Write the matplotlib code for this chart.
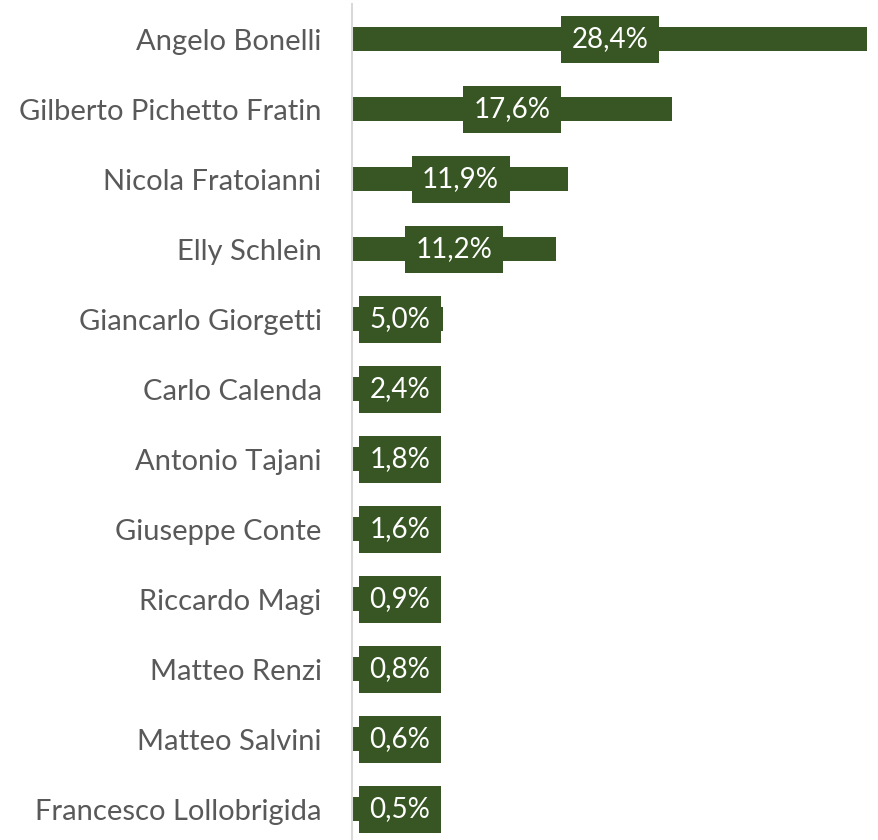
import matplotlib.pyplot as plt
from matplotlib.patches import Rectangle

# candidates and share of preference (%)
names = [
    "Angelo Bonelli",
    "Gilberto Pichetto Fratin",
    "Nicola Fratoianni",
    "Elly Schlein",
    "Giancarlo Giorgetti",
    "Carlo Calenda",
    "Antonio Tajani",
    "Giuseppe Conte",
    "Riccardo Magi",
    "Matteo Renzi",
    "Matteo Salvini",
    "Francesco Lollobrigida",
]
values = [28.4, 17.6, 11.9, 11.2, 5.0, 2.4, 1.8, 1.6, 0.9, 0.8, 0.6, 0.5]

GREEN = "#375623"
GREY_TXT = "#595959"
FONT = ["Lato", "DejaVu Sans"]
plt.rcParams["font.family"] = FONT

W, H = 879, 840
fig = plt.figure(figsize=(W / 100, H / 100), dpi=100)

# plot area in pixels: x 353..867 for 0..max, rows 70 px apart
x0, x1 = 353, 867
y_top, y_bot = 4, 840
row = 70.0
ax = fig.add_axes([x0 / W, 1 - y_bot / H, (x1 - x0) / W, (y_bot - y_top) / H])
ax.set_xlim(0, max(values))
ax.set_ylim(-0.5 + (y_bot - y_top) / row, -0.5)

pos = list(range(len(names)))
ax.barh(pos, values, height=24 / row, color=GREEN, zorder=2)

ax.set_yticks(pos)
ax.set_yticklabels(names)
ax.tick_params(axis="y", length=0, pad=21.6, labelsize=21, labelcolor=GREY_TXT)
ax.set_xticks([])
for s in ["top", "right", "bottom"]:
    ax.spines[s].set_visible(False)
ax.spines["left"].set_color("#d9d9d9")
ax.spines["left"].set_linewidth(1.5)
ax.spines["left"].set_position(("outward", 1))

# data labels: white text on a green box, centred on the bar
# but kept inside the plot area for short bars
labels = []
for i, v in zip(pos, values):
    t = ax.text(v / 2, i, f"{v:.1f}%".replace(".", ","), ha="center",
                va="center", color="white", fontsize=20, zorder=4)
    labels.append(t)

fig.canvas.draw()
r = fig.canvas.get_renderer()
inv = ax.transData.inverted()
box_h = 47
for t, i, v in zip(labels, pos, values):
    bb = t.get_window_extent(r)
    bw = bb.width + 21
    xc_pix = ax.transData.transform((v / 2, i))[0]
    xc_pix = max(xc_pix, x0 + 6 + bw / 2)
    yc_pix = ax.transData.transform((0, i))[1]
    xc = inv.transform((xc_pix, yc_pix))[0]
    t.set_x(xc)
    (bx0, by0) = inv.transform((xc_pix - bw / 2, yc_pix - box_h / 2))
    (bx1, by1) = inv.transform((xc_pix + bw / 2, yc_pix + box_h / 2))
    ax.add_patch(Rectangle((bx0, by0), bx1 - bx0, by1 - by0, fc=GREEN,
                           ec="none", zorder=3, clip_on=False))

fig.savefig("out.png", dpi=100)
